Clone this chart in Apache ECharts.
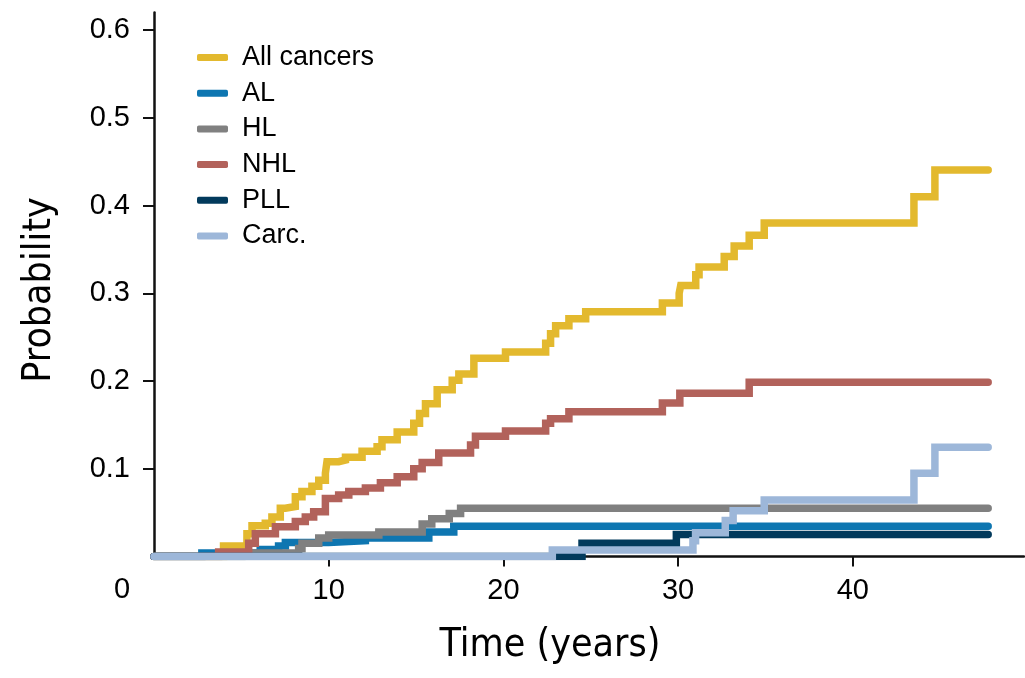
<!DOCTYPE html>
<html>
<head>
<meta charset="utf-8">
<script src="https://cdn.jsdelivr.net/npm/echarts@6/dist/echarts.min.js"></script>
<style>
html,body{margin:0;padding:0;background:#fff;}
#chart{width:1025px;height:678px;}
</style>
</head>
<body>
<div id="chart"></div>
<script>
// ---- data (time in years, cumulative probability) ----
const seriesNames = ['All cancers', 'AL', 'HL', 'NHL', 'PLL', 'Carc.'];
const xTickValues = [10, 20, 30, 40];
const yTickValues = [0.1, 0.2, 0.3, 0.4, 0.5, 0.6];

const allCancers = [[0,0],[3.98,0.012],[5.32,0.026],[5.61,0.035],[6.37,0.038],[6.75,0.045],[7.23,0.055],[7.52,0.057],[8.09,0.068],[8.47,0.074],[9.04,0.080],[9.43,0.087],[9.81,0.095],[9.9,0.108],[10.57,0.110],[10.96,0.113],[11.91,0.120],[12.77,0.125],[13.05,0.133],[13.92,0.142],[14.87,0.152],[15.2,0.163],[15.54,0.174],[16.21,0.190],[17.07,0.201],[17.45,0.208],[18.31,0.226],[20.12,0.233],[22.42,0.243],[22.7,0.254],[22.99,0.263],[23.75,0.271],[24.71,0.279],[29.1,0.289],[30.06,0.300],[30.15,0.309],[31.01,0.321],[31.2,0.330],[32.64,0.342],[33.21,0.354],[34.07,0.366],[34.93,0.380],[43.5,0.410],[44.7,0.4405],[47.75,0.4405]];
const al = [[0,0],[2.74,0.004],[6.08,0.008],[7.13,0.012],[7.52,0.016],[10.0,0.018],[12.1,0.021],[15.73,0.028],[17.16,0.0345],[47.75,0.0345]];
const hl = [[0,0],[5.03,0.004],[8.28,0.009],[8.47,0.015],[9.43,0.021],[10.0,0.0245],[12.87,0.028],[15.35,0.037],[15.9,0.043],[16.9,0.049],[17.55,0.055],[47.75,0.055]];
const nhl = [[0,0],[3.7,0.005],[5.42,0.015],[5.8,0.026],[6.95,0.034],[8.09,0.040],[8.66,0.045],[9.14,0.051],[9.81,0.066],[10.57,0.070],[11.15,0.074],[12.1,0.078],[12.96,0.084],[13.92,0.091],[14.87,0.100],[15.35,0.107],[16.3,0.118],[18.12,0.127],[18.4,0.137],[20.12,0.143],[22.42,0.152],[22.7,0.157],[23.75,0.165],[29.1,0.175],[30.1,0.186],[34.07,0.1985],[47.75,0.1985]];
const pll = [[0,0],[24.5,0.015],[29.9,0.025],[47.75,0.025]];
const carc = [[0,0],[22.8,0.0075],[30.85,0.018],[31.0,0.027],[32.7,0.041],[33.15,0.052],[34.93,0.0645],[43.5,0.095],[44.7,0.1245],[47.75,0.1245]];

const seriesData = [allCancers, al, hl, nhl, pll, carc];
const seriesColors = ['#E3B92E', '#0E76B1', '#808080', '#B2625B', '#023A5C', '#9DB7D9'];

// ---- chart ----
const chart = echarts.init(document.getElementById('chart'), null, {renderer: 'canvas'});
const baseFont = '"Liberation Sans", Arial, Helvetica, sans-serif';
const narrowFont = '"Liberation Sans Narrow", "DejaVu Sans Condensed", "Liberation Sans", sans-serif';
const textColor = '#000';

const option = {
  animation: false,
  backgroundColor: '#fff',
  grid: {left: 154, right: 1, top: 12.5, bottom: 121.5, containLabel: false},
  legend: {
    orient: 'vertical',
    left: 197,
    top: 44,
    padding: 0,
    icon: 'roundRect',
    itemWidth: 31,
    itemHeight: 7,
    itemGap: 8.7,
    data: seriesNames,
    textStyle: {fontFamily: baseFont, fontSize: 27, color: textColor, lineHeight: 26, padding: [0, 0, 0, 9]}
  },
  xAxis: {
    type: 'value',
    min: 0,
    max: 49.8,
    splitLine: {show: false},
    axisLine: {lineStyle: {color: '#111', width: 2.5}},
    axisTick: {show: true, length: 10, customValues: xTickValues, lineStyle: {color: '#111', width: 2}},
    axisLabel: {customValues: xTickValues, margin: 20, fontFamily: baseFont, fontSize: 29, color: textColor}
  },
  yAxis: {
    type: 'value',
    min: 0,
    max: 0.62,
    splitLine: {show: false},
    axisLine: {show: true, lineStyle: {color: '#111', width: 2.5}},
    axisTick: {show: true, length: 11, customValues: yTickValues, lineStyle: {color: '#111', width: 2}},
    axisLabel: {customValues: yTickValues, margin: 24, fontFamily: baseFont, fontSize: 29, color: textColor,
      formatter: v => (Math.round(v * 10) / 10).toFixed(1)}
  },
  graphic: [
    {type: 'text', left: 114, top: 575, style: {text: '0', font: '29px ' + baseFont, fill: textColor}},
    {type: 'text', x: 550, y: 646, style: {text: 'Time (years)', font: '39px ' + narrowFont, fill: textColor, textAlign: 'center', textVerticalAlign: 'middle'}},
    {type: 'text', x: 40, y: 290, rotation: Math.PI / 2, style: {text: 'Probability', font: '39px ' + narrowFont, fill: textColor, textAlign: 'center', textVerticalAlign: 'middle'}}
  ],
  series: seriesNames.map((name, i) => ({
    name: name,
    type: 'line',
    step: 'end',
    symbol: 'none',
    data: seriesData[i],
    color: seriesColors[i],
    lineStyle: {width: 7.5, color: seriesColors[i], cap: 'round', join: 'miter'},
    z: 2 + i
  }))
};
chart.setOption(option);
</script>
</body>
</html>
